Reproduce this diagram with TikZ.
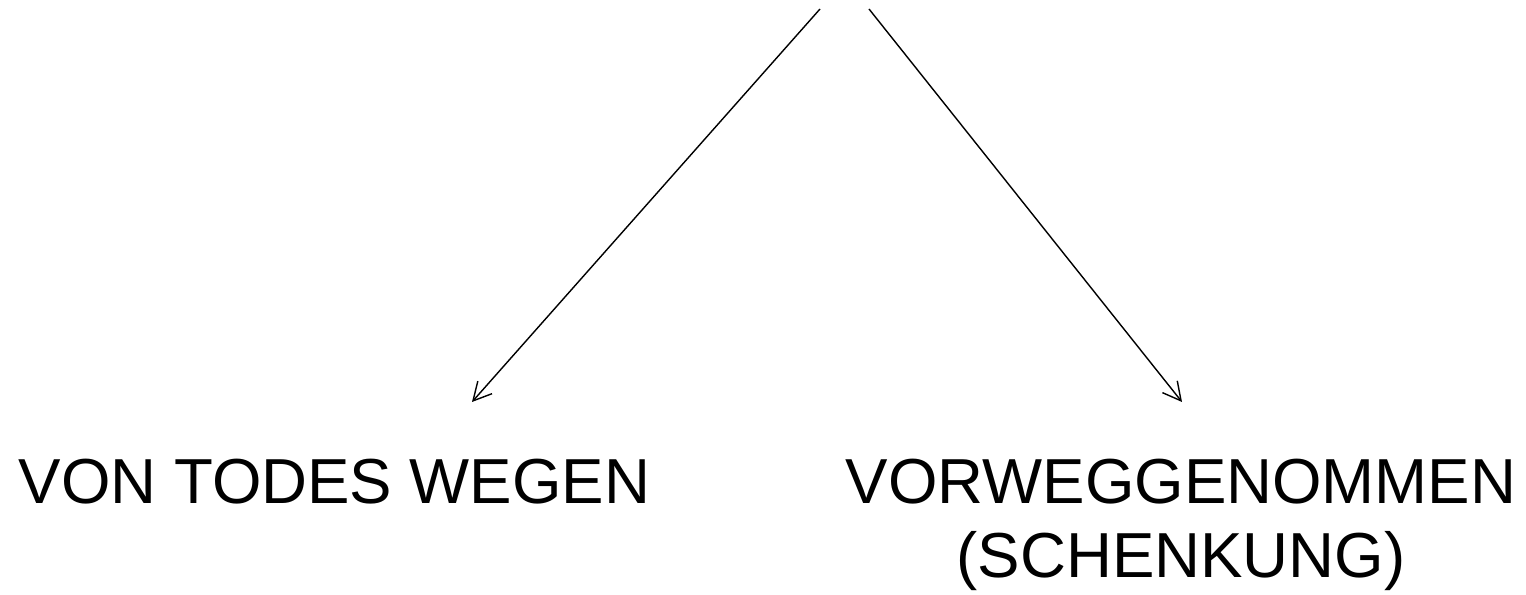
\documentclass[tikz,border=0pt]{standalone}
\usepackage{fontspec}
\setmainfont{Liberation Sans}
\usetikzlibrary{arrows.meta}
\usetikzlibrary{positioning}

\begin{document}
\begin{tikzpicture}[x=1cm,y=1cm,
  label/.style={font=\fontsize{18.1}{21}\selectfont,inner sep=0pt,align=center},
  branch/.style={draw=black,line width=0.4pt,-{Straight Barb[length=1.8mm,width=1.9mm]}}]
\useasboundingbox (0,0) rectangle (15.26,5.95);

\coordinate (ltop) at (8.20,5.86);
\coordinate (rtop) at (8.69,5.86);
\coordinate (ltip) at (4.72,1.93);
\coordinate (rtip) at (11.82,1.93);

\node[label,anchor=base] (tod) at (3.345,0.91) {VON TODES WEGEN};
\node[label,anchor=north] (vorweg) at (11.81,0 |- tod.north) {VORWEGGENOMMEN\\(SCHENKUNG)};

\draw[branch] (ltop) -- (ltip);
\draw[branch] (rtop) -- (rtip);

\end{tikzpicture}
\end{document}
